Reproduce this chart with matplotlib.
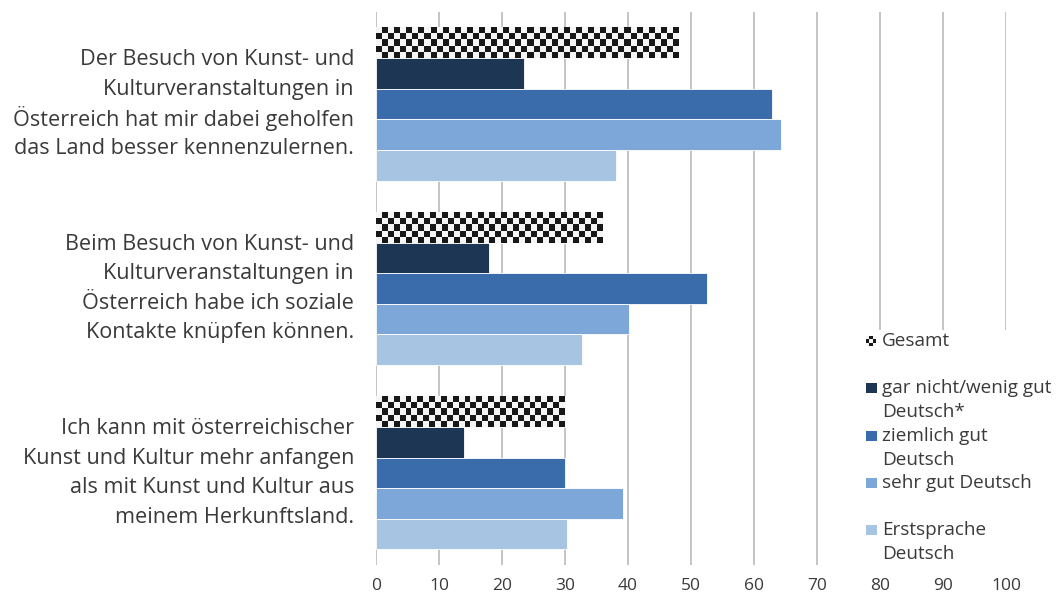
import numpy as np
import matplotlib
matplotlib.use('Agg')
import matplotlib.pyplot as plt
import matplotlib.transforms as mtransforms
from matplotlib.patches import Rectangle

plt.rcParams['font.family'] = ['Open Sans', 'DejaVu Sans']

categories = [
    "Der Besuch von Kunst- und\nKulturveranstaltungen in\nÖsterreich hat mir dabei geholfen\ndas Land besser kennenzulernen.",
    "Beim Besuch von Kunst- und\nKulturveranstaltungen in\nÖsterreich habe ich soziale\nKontakte knüpfen können.",
    "Ich kann mit österreichischer\nKunst und Kultur mehr anfangen\nals mit Kunst und Kultur aus\nmeinem Herkunftsland.",
]
series = ["Gesamt", "gar nicht/wenig gut\nDeutsch*", "ziemlich gut\nDeutsch",
          "sehr gut Deutsch", "Erstsprache\nDeutsch"]
gesamt = [48, 36, 30]
gar_nicht = [23.5, 17.9, 14]
ziemlich = [62.9, 52.5, 30]
sehr_gut = [64.3, 40.2, 39.2]
erstsprache = [38.1, 32.7, 30.3]
ticks = [0, 10, 20, 30, 40, 50, 60, 70, 80, 90, 100]

colors = ['white', '#1c3654', '#3a6bab', '#7ca7d8', '#a8c4e3']
values = [gesamt, gar_nicht, ziemlich, sehr_gut, erstsprache]
txt = '#3a3a3a'

fig = plt.figure(figsize=(10.64, 5.96), dpi=100)
ax = fig.add_axes([376 / 1064, 1 - 565 / 596, 630 / 1064, 553 / 596])

h = 0.166
y = np.arange(len(categories))
for k, vals in enumerate(values):
    pos = y + (k - 2) * h
    ax.barh(pos, vals, height=h, color=colors[k], edgecolor='white',
            linewidth=0.6, zorder=2)
    if k == 0:
        # checkered fill for "Gesamt"
        for p, v in zip(pos, vals):
            nx = int(round(v * 6.3 / 6))
            board = np.indices((5, nx)).sum(axis=0) % 2
            ax.imshow(board, cmap='Greys', vmin=-0.1, vmax=1.1,
                      extent=(0, v, p - h / 2, p + h / 2), aspect='auto',
                      interpolation='nearest', zorder=3)

ax.set_xlim(0, 100)
ax.set_ylim(2.5, -0.5)
ax.set_xticks(ticks)
ax.set_yticks(y)
ax.set_yticklabels([])
ax.tick_params(axis='x', labelsize=12.5, colors=txt, length=0, pad=9)
ax.tick_params(axis='y', length=0)
ax.grid(axis='x', color='#bfbfbf', linewidth=1.3, zorder=0)
ax.set_axisbelow(True)
for s in ax.spines.values():
    s.set_visible(False)

# category labels, one line at a time so the spacing stays even
trans = mtransforms.blended_transform_factory(ax.transAxes, ax.transData)
for yi, cat in zip(y, categories):
    lines = cat.split('\n')
    for j, line in enumerate(lines):
        off = mtransforms.offset_copy(trans, fig=fig, x=0,
                                      y=-(j - (len(lines) - 1) / 2) * 29.5 * 0.72,
                                      units='points')
        ax.text(-0.035, yi, line, transform=off, ha='right', va='center',
                fontsize=15.6, color=txt)

# legend, drawn by hand in pixel positions
W, H = 1064, 596
fig.add_artist(Rectangle((852 / W, 1 - 568 / H), 212 / W, 238 / H,
                         transform=fig.transFigure, facecolor='white',
                         edgecolor='none', zorder=2))
for i, lab in enumerate(series):
    yc = 341 + 47.3 * i
    if i == 0:
        lax = fig.add_axes([866 / W, 1 - (yc + 5) / H, 10 / W, 10 / H])
        lax.imshow(np.indices((3, 3)).sum(axis=0) % 2, cmap='Greys',
                   vmin=-0.1, vmax=1.1, interpolation='nearest', aspect='auto')
        lax.axis('off')
        lax.set_zorder(5)
    else:
        fig.add_artist(Rectangle((866 / W, 1 - (yc + 5) / H), 11 / W, 10 / H,
                                 transform=fig.transFigure, facecolor=colors[i],
                                 edgecolor='none', zorder=3))
    for j, line in enumerate(lab.split('\n')):
        fig.text(882 / W, 1 - (yc + 24 * j) / H, line, fontsize=13.6, color=txt,
                 va='center', ha='left', zorder=4)

fig.savefig('out.png', dpi=100)
